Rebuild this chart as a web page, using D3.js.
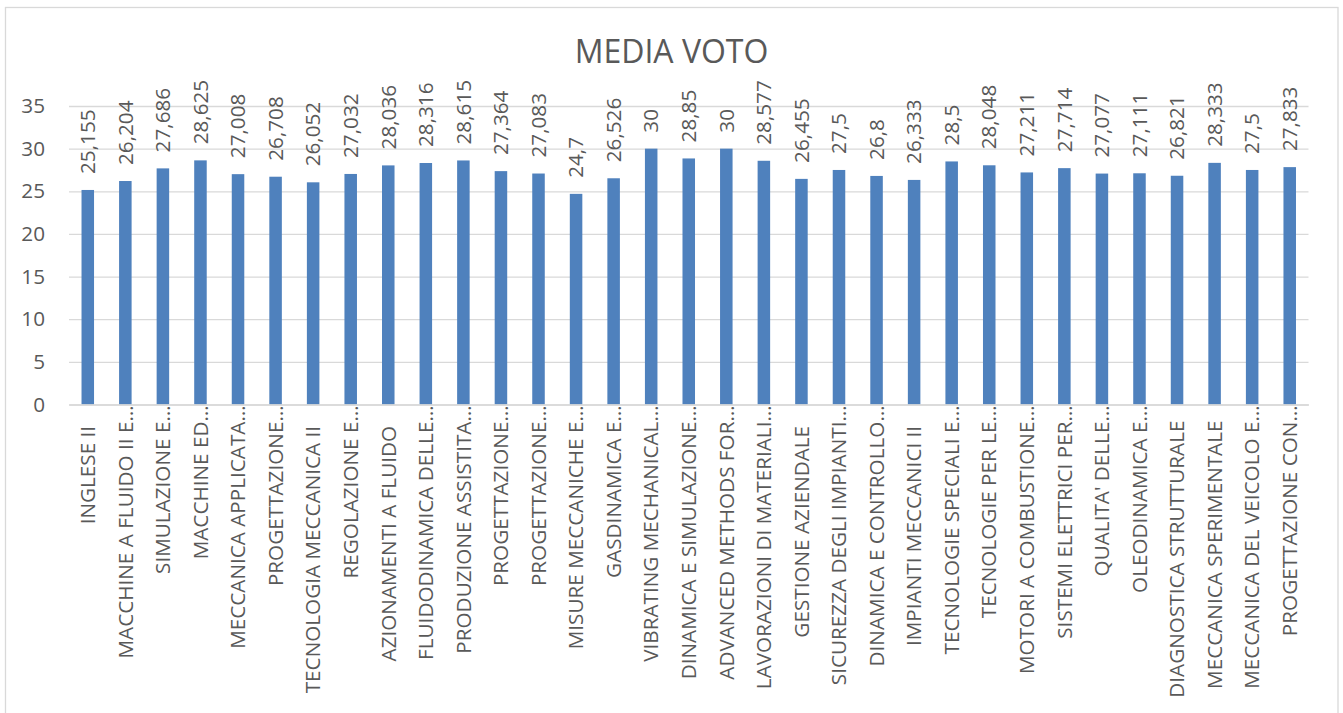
<!DOCTYPE html>
<html>
<head>
<meta charset="utf-8">
<script src="https://cdn.jsdelivr.net/npm/d3@7"></script>
<style>
  html, body { margin: 0; padding: 0; background: #ffffff; }
  svg { display: block; font-family: "Open Sans", "Noto Sans", sans-serif; }
  .cat { white-space: pre; }
</style>
</head>
<body>
<svg id="chart" width="1343" height="713"></svg>
<script>
// Average grade per course
const courses = [
  "INGLESE II ",
  "MACCHINE A FLUIDO II E…",
  "SIMULAZIONE E…",
  "MACCHINE ED…",
  "MECCANICA APPLICATA…",
  "PROGETTAZIONE…",
  "TECNOLOGIA MECCANICA II ",
  "REGOLAZIONE E…",
  "AZIONAMENTI A FLUIDO ",
  "FLUIDODINAMICA DELLE…",
  "PRODUZIONE ASSISTITA…",
  "PROGETTAZIONE…",
  "PROGETTAZIONE…",
  "MISURE MECCANICHE E…",
  "GASDINAMICA E…",
  "VIBRATING MECHANICAL…",
  "DINAMICA E SIMULAZIONE…",
  "ADVANCED METHODS FOR…",
  "LAVORAZIONI DI MATERIALI…",
  "GESTIONE AZIENDALE ",
  "SICUREZZA DEGLI IMPIANTI…",
  "DINAMICA E CONTROLLO…",
  "IMPIANTI MECCANICI II ",
  "TECNOLOGIE SPECIALI E…",
  "TECNOLOGIE PER LE…",
  "MOTORI A COMBUSTIONE…",
  "SISTEMI ELETTRICI PER…",
  "QUALITA' DELLE…",
  "OLEODINAMICA E…",
  "DIAGNOSTICA STRUTTURALE",
  "MECCANICA SPERIMENTALE",
  "MECCANICA DEL VEICOLO E…",
  "PROGETTAZIONE CON…"
];

const mediaVoto = [
  25.155, 26.204, 27.686, 28.625, 27.008, 26.708, 26.052, 27.032, 28.036, 28.316,
  28.615, 27.364, 27.083, 24.7, 26.526, 30, 28.85, 30, 28.577, 26.455,
  27.5, 26.8, 26.333, 28.5, 28.048, 27.211, 27.714, 27.077, 27.111, 26.821,
  28.333, 27.5, 27.833
];

const yTicks = [0, 5, 10, 15, 20, 25, 30, 35];
const chartTitle = "MEDIA VOTO";

const W = 1343, H = 713;
const plot = { left: 69, right: 1308.5, top: 106, bottom: 404.5 };
const textColor = "#595959";
const gridColor = "#d9d9d9";
const barColor = "#4f81bd";
const labelSize = 20.7;

const it = d3.formatLocale({ decimal: ",", thousands: ".", grouping: [3], currency: ["€", ""] });
const fmt = it.format(".3~f");

const svg = d3.select("#chart");

// chart frame
svg.append("rect")
  .attr("x", 5.5).attr("y", 7.5)
  .attr("width", 1332.5).attr("height", H + 20)
  .attr("fill", "#ffffff")
  .attr("stroke", gridColor).attr("stroke-width", 1.3);

const idx = d3.range(courses.length);

const x = d3.scaleBand()
  .domain(idx)
  .range([plot.left, plot.right])
  .padding(0);

const y = d3.scaleLinear()
  .domain([0, 35])
  .range([plot.bottom, plot.top]);

// title
svg.append("text")
  .attr("x", (5 + 1338) / 2)
  .attr("y", 63)
  .attr("text-anchor", "middle")
  .attr("fill", textColor)
  .attr("font-size", 32)
  .text(chartTitle);

// gridlines and value axis
const yAxis = d3.axisLeft(y)
  .tickValues(yTicks)
  .tickSize(-(plot.right - plot.left))
  .tickPadding(24)
  .tickFormat(d => d);

const gy = svg.append("g")
  .attr("transform", `translate(${plot.left},0)`)
  .call(yAxis);
gy.select(".domain").remove();
gy.selectAll(".tick line").attr("stroke", gridColor).attr("stroke-width", 1.3);
gy.selectAll(".tick text")
  .attr("fill", textColor)
  .attr("font-size", labelSize)
  .attr("font-family", "'Open Sans', sans-serif");

// bars (gap width 200%)
const barW = x.bandwidth() / 3;
svg.append("g")
  .selectAll("rect")
  .data(idx)
  .join("rect")
  .attr("x", i => x(i) + (x.bandwidth() - barW) / 2)
  .attr("y", i => y(mediaVoto[i]))
  .attr("width", barW)
  .attr("height", i => y(0) - y(mediaVoto[i]))
  .attr("fill", barColor);

// category axis line and rotated course names
const xAxis = d3.axisBottom(x).tickSize(0).tickFormat(i => courses[i]);
const gx = svg.append("g")
  .attr("transform", `translate(0,${plot.bottom})`)
  .call(xAxis);
gx.select(".domain").attr("stroke", gridColor).attr("stroke-width", 1.5);
gx.selectAll(".tick text")
  .attr("class", "cat")
  .attr("fill", textColor)
  .attr("font-size", labelSize)
  .attr("font-family", "'Open Sans', sans-serif")
  .attr("text-anchor", "end")
  .attr("transform", i => `translate(0,${courses[i].endsWith("…") ? 1 : 16}) rotate(-90)`)
  .attr("x", 0)
  .attr("y", 0)
  .attr("dy", "0.35em");

// value labels above the bars
svg.append("g")
  .selectAll("text")
  .data(idx)
  .join("text")
  .attr("transform", i => `translate(${x(i) + x.bandwidth() / 2},${y(mediaVoto[i]) - 16}) rotate(-90)`)
  .attr("dy", "0.35em")
  .attr("text-anchor", "start")
  .attr("fill", textColor)
  .attr("font-size", labelSize)
  .text(i => fmt(mediaVoto[i]));
</script>
</body>
</html>
